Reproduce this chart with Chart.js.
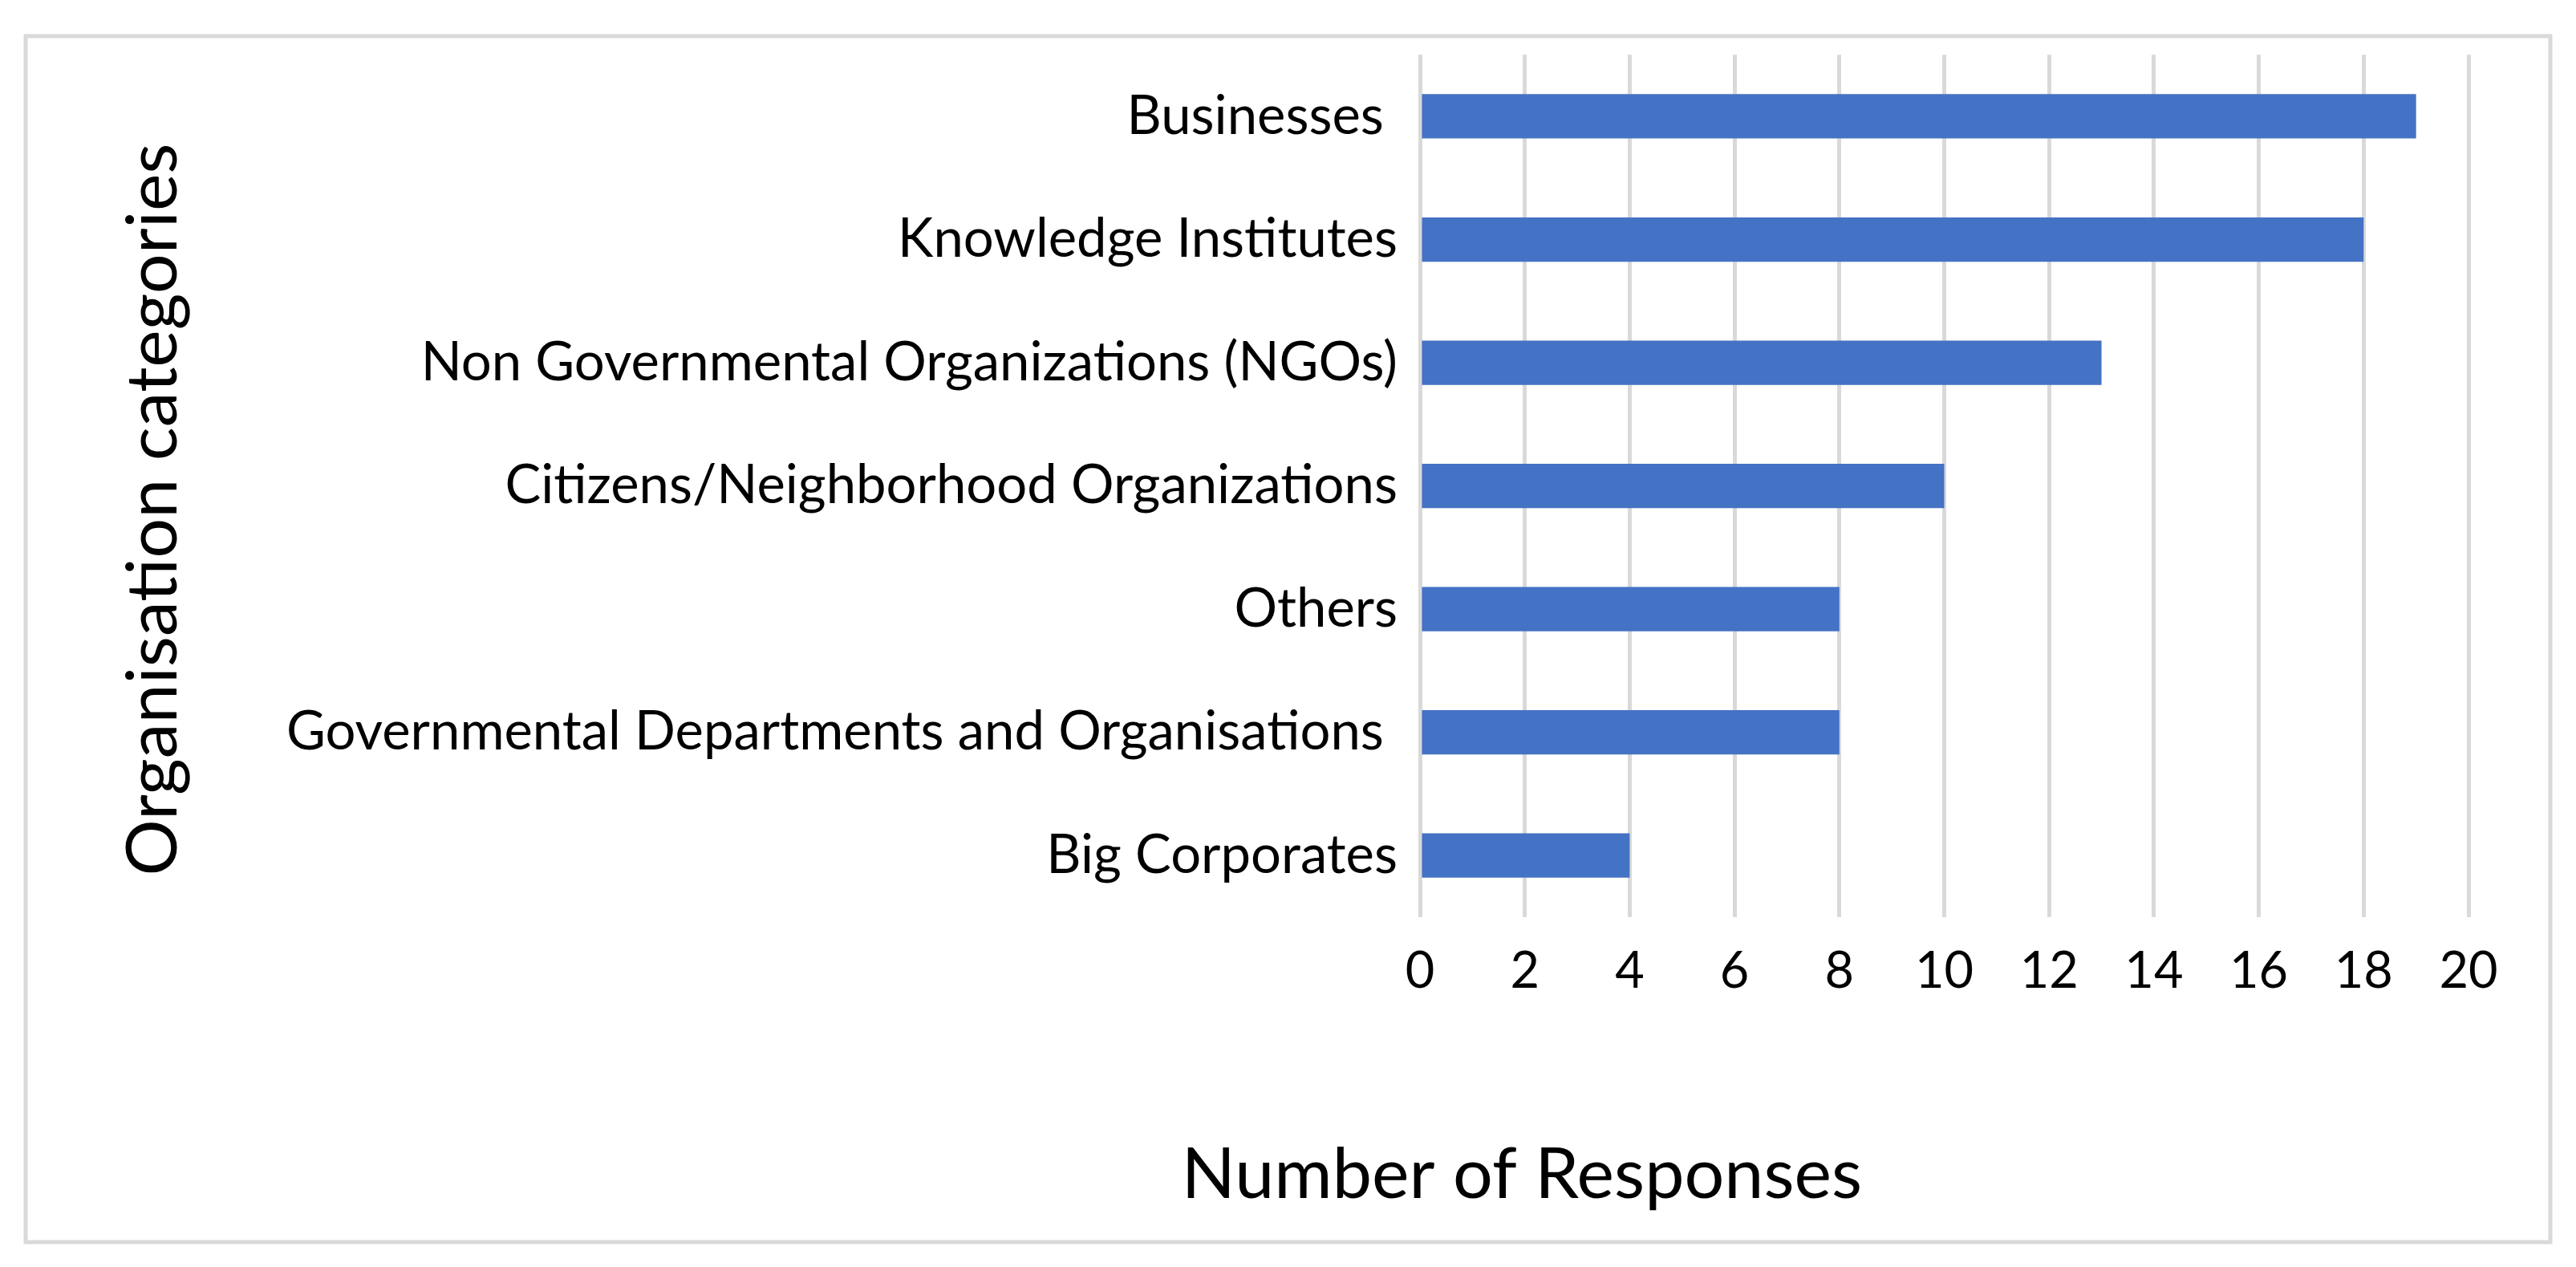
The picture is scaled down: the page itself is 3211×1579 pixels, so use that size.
<!DOCTYPE html>
<html>
<head>
<meta charset="utf-8">
<script src="https://cdn.jsdelivr.net/npm/chart.js@4/dist/chart.umd.min.js"></script>
<style>
  html, body { margin: 0; padding: 0; background: #ffffff; }
  canvas { display: block; }
</style>
</head>
<body>
<canvas id="chart-org" width="3211" height="1579"></canvas>
<script>
// data
var categories = [
	'Businesses ',
	'Knowledge Institutes',
	'Non Governmental Organizations (NGOs)',
	'Citizens/Neighborhood Organizations',
	'Others',
	'Governmental Departments and Organisations ',
	'Big Corporates'
];
var responses = [19, 18, 13, 10, 8, 8, 4];
var xTicks = [0, 2, 4, 6, 8, 10, 12, 14, 16, 18, 20];
var xTitle = 'Number of Responses';
var yTitle = 'Organisation categories';

var font = 'Lato';

// frame and axis titles placed like the original (Excel puts them off-centre)
var framePlugin = {
	id: 'frame',
	beforeDraw: function(chart) {
		var ctx = chart.ctx;
		ctx.save();
		ctx.fillStyle = '#ffffff';
		ctx.fillRect(0, 0, chart.width, chart.height);
		ctx.strokeStyle = '#d9d9d9';
		ctx.lineWidth = 5;
		ctx.strokeRect(32, 45, 3147, 1503);
		ctx.restore();
	},
	afterDraw: function(chart) {
		var ctx = chart.ctx;
		ctx.save();
		ctx.fillStyle = '#000000';
		ctx.font = '88px ' + font;
		ctx.textAlign = 'center';
		ctx.textBaseline = 'alphabetic';
		ctx.fillText(xTitle, 1897, 1493);
		ctx.translate(220, 635);
		ctx.rotate(-Math.PI / 2);
		ctx.fillText(yTitle, 0, 0);
		ctx.restore();
	}
};

var ctx = document.getElementById('chart-org').getContext('2d');

var myChart = new Chart(ctx, {
	type: 'bar',
	data: {
		labels: categories,
		datasets: [
			{
				label: xTitle,
				data: responses,
				backgroundColor: '#4472c4',
				borderWidth: 0,
				barPercentage: 0.9,
				categoryPercentage: 0.4
			}
		]
	},
	options: {
		indexAxis: 'y',
		responsive: false,
		devicePixelRatio: 1,
		animation: false,
		layout: {
			padding: { left: 0, right: 134, top: 57, bottom: 0 }
		},
		plugins: {
			legend: { display: false },
			tooltip: { enabled: false }
		},
		scales: {
			x: {
				min: 0,
				max: 20,
				afterFit: function(scale) { scale.height = 436; },
				afterBuildTicks: function(scale) {
					scale.ticks = xTicks.map(function(v) { return { value: v }; });
				},
				grid: {
					color: '#d9d9d9',
					lineWidth: 5,
					drawTicks: false
				},
				border: { display: false },
				ticks: {
					color: '#000000',
					padding: 30,
					font: { family: font, size: 63 }
				}
			},
			y: {
				afterFit: function(scale) { scale.width = 1770; },
				grid: { display: false, drawTicks: false },
				border: { display: false },
				ticks: {
					color: '#000000',
					padding: 28,
					font: { family: font, size: 67 }
				}
			}
		}
	},
	plugins: [framePlugin]
});
</script>
</body>
</html>
